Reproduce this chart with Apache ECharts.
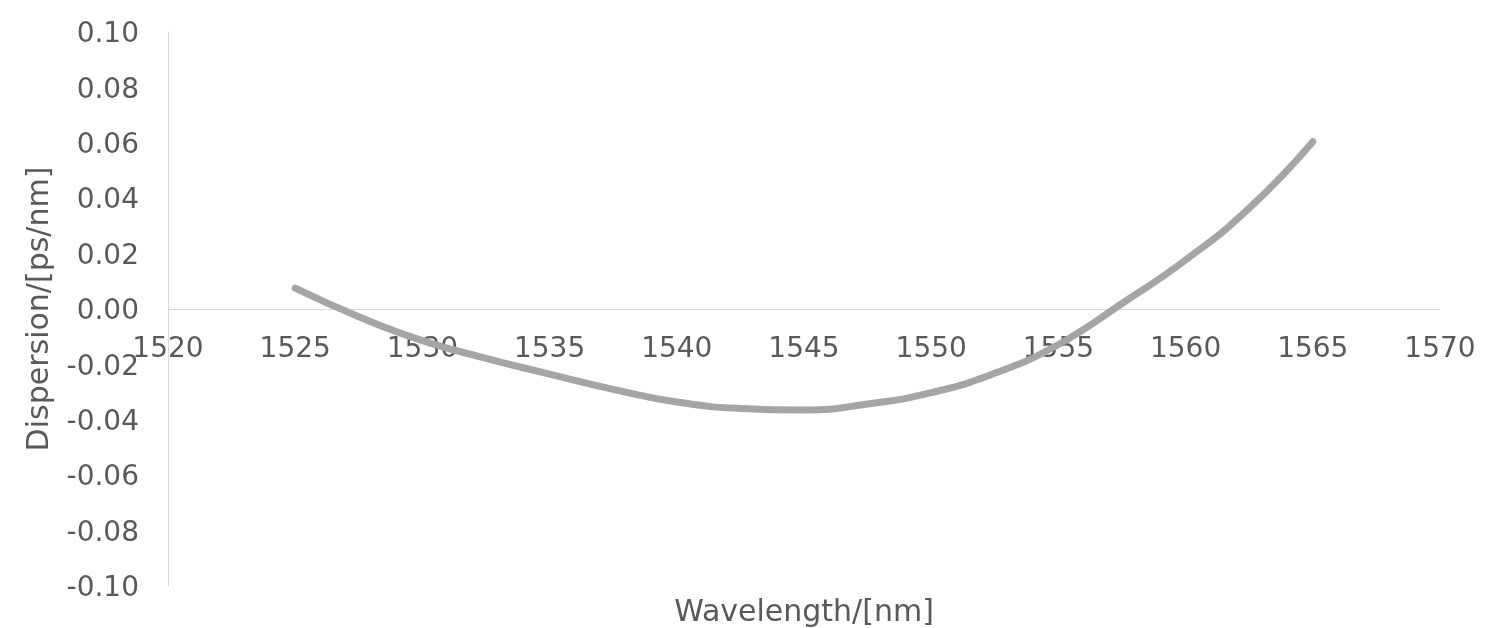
<!DOCTYPE html>
<html>
<head>
<meta charset="utf-8">
<script src="https://cdn.jsdelivr.net/npm/echarts@6/dist/echarts.min.js"></script>
<style>
    html, body { margin: 0; padding: 0; background: #fff; }
    #chart { width: 1485px; height: 628px; }
</style>
</head>
<body>
<div id="chart"></div>
<script>
// values
var wavelength = [1525, 1527.5, 1530, 1532.5, 1535, 1537.5, 1540, 1542.5, 1545,
    1547.5, 1550, 1552.5, 1555, 1557.5, 1560, 1562.5, 1565];
var dispersion = [0.0075, -0.0028, -0.0114, -0.0178, -0.0235, -0.0290, -0.0336, -0.0359, -0.0365,
    -0.0343, -0.0302, -0.0232, -0.0128, 0.0020, 0.0177, 0.0364, 0.0604];

var xTitle = 'Wavelength/[nm]';
var yTitle = 'Dispersion/[ps/nm]';

var textColor = '#595959';
var fontName = '"DejaVu Sans", sans-serif';

function drawChart(id) {
    var chartDom = document.getElementById(id);
    var myChart = echarts.init(chartDom);
    var points = [];
    for (var i = 0; i < wavelength.length; i++) {
        points.push([wavelength[i], dispersion[i]]);
    }

    // x axis sits on the zero line: grid is 554px tall, zero is 277px above the bottom
    var option = {
        animation: false,
        backgroundColor: '#fff',
        grid: {
            left: 168,
            right: 45,
            top: 32,
            bottom: 42,
            outerBoundsMode: 'none'
        },
        xAxis: {
            type: 'value',
            min: 1520,
            max: 1570,
            interval: 5,
            offset: -277,
            name: xTitle,
            nameLocation: 'middle',
            nameGap: 289,
            nameTextStyle: { color: textColor, fontSize: 30, fontFamily: fontName },
            axisLine: { onZero: false, lineStyle: { color: '#d9d9d9', width: 1 } },
            axisTick: { show: false },
            splitLine: { show: false },
            axisLabel: {
                color: textColor,
                fontSize: 28,
                fontFamily: fontName,
                margin: 27,
                formatter: function (v) {
                    return String(v);
                }
            }
        },
        yAxis: {
            type: 'value',
            min: -0.1,
            max: 0.1,
            interval: 0.02,
            name: yTitle,
            nameLocation: 'middle',
            nameGap: 108,
            nameTextStyle: { color: textColor, fontSize: 30, fontFamily: fontName },
            axisLine: { show: true, lineStyle: { color: '#d9d9d9', width: 1 } },
            axisTick: { show: false },
            splitLine: { show: false },
            axisLabel: {
                color: textColor,
                fontSize: 28,
                fontFamily: fontName,
                margin: 29,
                lineHeight: 34,
                verticalAlign: 'top',
                padding: [-14, 0, 0, 0],
                formatter: function (v) {
                    var s = v.toFixed(2);
                    return s === '-0.00' ? '0.00' : s;
                }
            }
        },
        series: [{
            type: 'line',
            data: points,
            smooth: true,
            symbol: 'none',
            lineStyle: { color: '#a5a5a5', width: 7, cap: 'round' }
        }]
    };

    myChart.setOption(option);
}

drawChart('chart');
</script>
</body>
</html>
